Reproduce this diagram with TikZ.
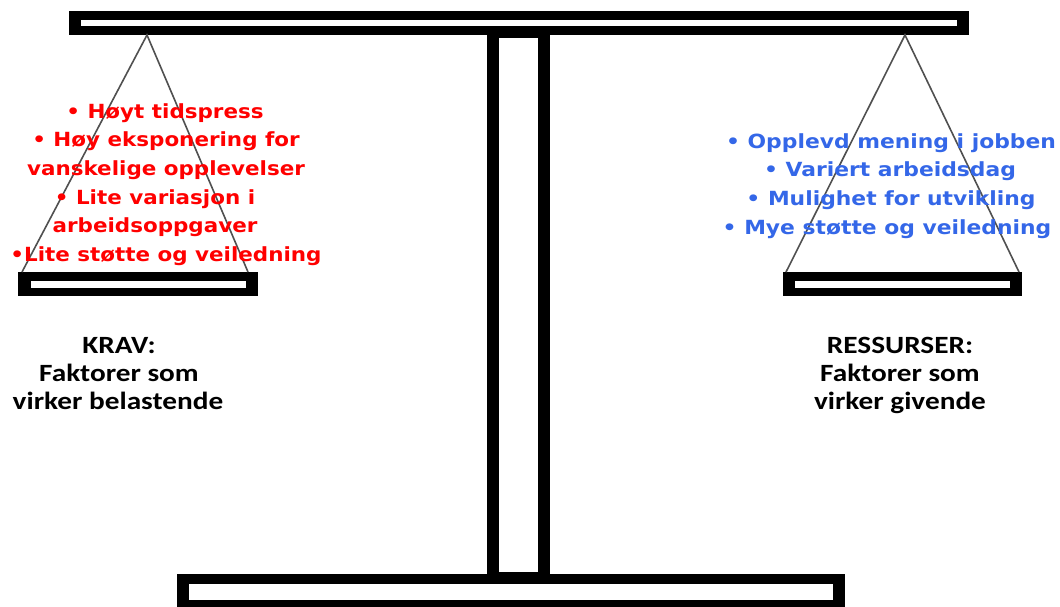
\documentclass[tikz,border=0pt]{standalone}
\usepackage{fontspec}
\setmainfont{DejaVu Sans}
\newfontfamily\redfont[FakeStretch=1.10]{DejaVu Sans}
\newfontfamily\bluefont[FakeStretch=1.12]{DejaVu Sans}
\newfontfamily\capfont[FakeStretch=1.18]{Carlito}
\definecolor{kravred}{RGB}{255,0,0}
\definecolor{resblue}{RGB}{52,103,232}
\definecolor{stringgray}{RGB}{80,80,80}
\tikzset{
  redline/.style={anchor=base, inner sep=0pt, text=kravred, font=\redfont\bfseries\fontsize{19.5}{28}\selectfont},
  blueline/.style={anchor=base, inner sep=0pt, text=resblue, font=\bluefont\bfseries\fontsize{19.5}{28}\selectfont},
  capline/.style={anchor=base, inner sep=0pt, text=black, font=\capfont\bfseries\fontsize{24.8}{28}\selectfont},
  frameouter/.style={fill=black},
  frameinner/.style={fill=white},
  stringline/.style={draw=stringgray, line width=1.6pt}
}
\begin{document}
\begin{tikzpicture}[x=1pt,y=-1pt]
\useasboundingbox (0,0) rectangle (1060,606);
\fill[white] (0,0) rectangle (1060,606);
% top beam
\fill[frameouter] (69,11) rectangle (969,35);
\fill[frameinner] (81,20) rectangle (957,26);
% column
\fill[frameouter] (487,33) rectangle (550,576);
\fill[frameinner] (499,38) rectangle (538,572);
% base
\fill[frameouter] (177,574) rectangle (845,612);
\fill[frameinner] (189,584) rectangle (833,600);
% pans
\fill[frameouter] (18,272) rectangle (258,296);
\fill[frameinner] (31,281) rectangle (246,288);
\fill[frameouter] (783,272) rectangle (1022,296);
\fill[frameinner] (795,281) rectangle (1010,288);
% strings
\coordinate (apexL) at (147,35);
\coordinate (panLl) at (22,272);
\coordinate (panLr) at (248,272);
\coordinate (apexR) at (905,35);
\coordinate (panRl) at (786,272);
\coordinate (panRr) at (1019,272);
\draw[stringline] (panLl) -- (apexL) -- (panLr);
\draw[stringline] (panRl) -- (apexR) -- (panRr);
% red list
\node[redline] (r1) at (165,118) {• Høyt tidspress};
\node[redline] (r2) at (166,146.7) {• Høy eksponering for};
\node[redline] (r3) at (166,175.4) {vanskelige opplevelser};
\node[redline] (r4) at (155,204) {• Lite variasjon i};
\node[redline] (r5) at (155,232.8) {arbeidsoppgaver};
\node[redline] (r6) at (166,261.5) {•Lite støtte og veiledning};
% blue list
\node[blueline] (b1) at (891,148) {• Opplevd mening i jobben};
\node[blueline] (b2) at (890,176.7) {• Variert arbeidsdag};
\node[blueline] (b3) at (891,205.4) {• Mulighet for utvikling};
\node[blueline] (b4) at (887,234) {• Mye støtte og veiledning};
% captions
\node[capline] (k1) at (119,353) {KRAV:};
\node[capline] (k2) at (119,381) {Faktorer som};
\node[capline] (k3) at (118,409) {virker belastende};
\node[capline] (s1) at (900,353) {RESSURSER:};
\node[capline] (s2) at (900,381) {Faktorer som};
\node[capline] (s3) at (900,409) {virker givende};
\end{tikzpicture}
\end{document}
